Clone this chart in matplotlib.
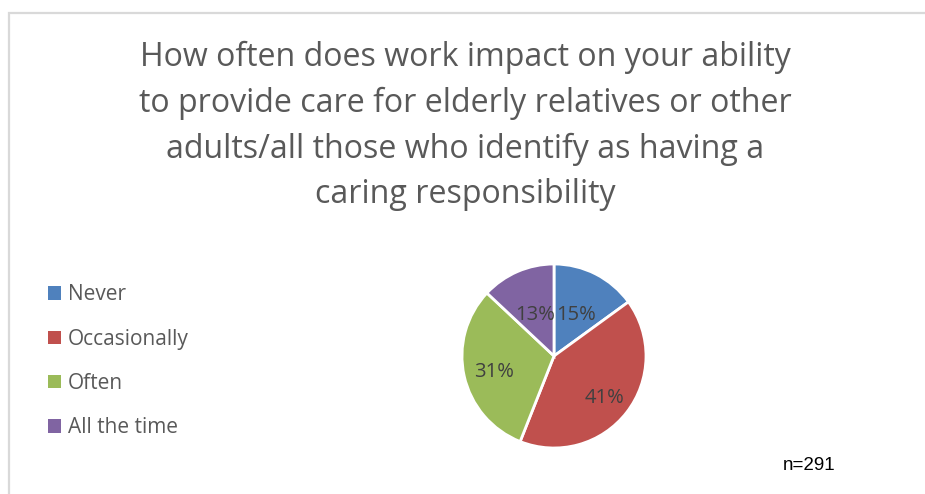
import matplotlib
matplotlib.use("Agg")
import matplotlib.pyplot as plt
import numpy as np

# Survey responses
categories = ["Never", "Occasionally", "Often", "All the time"]
shares = [15, 41, 31, 13]
sample_size = 291
title = ("How often does work impact on your ability\n"
         "to provide care for elderly relatives or other\n"
         "adults/all those who identify as having a\n"
         "caring responsibility")

colors = ["#4f81bd", "#c0504d", "#9bbb59", "#8064a2"]
label_radius = [0.53, 0.7, 0.67, 0.52]

W, H = 925, 494
fig = plt.figure(figsize=(W / 100, H / 100), dpi=100)
fig.patch.set_facecolor("white")

# Chart-area frame (top and left edges visible)
frame = fig.add_axes([0, 0, 1, 1])
frame.set_xlim(0, W)
frame.set_ylim(H, 0)
frame.axis("off")
frame.plot([9, 9, W + 5], [H + 5, 13, 13], color="#d9d9d9", lw=1.6,
           solid_joinstyle="miter")

fig.text(465 / W, 1 - 126 / H, title, ha="center", va="center",
         fontsize=23.1, color="#595959", family="Open Sans",
         linespacing=1.5)

# Pie
cx, cy, r = 554, 356, 92
ax = fig.add_axes([(cx - r) / W, (H - cy - r) / H, 2 * r / W, 2 * r / H])
wedges, _ = ax.pie(shares, colors=colors, startangle=90, counterclock=False,
                   radius=1.0,
                   wedgeprops=dict(edgecolor="white", linewidth=2.0))
ax.set_xlim(-1, 1)
ax.set_ylim(-1, 1)
ax.set_aspect("equal")
ax.axis("off")

total = sum(shares)
for w, v, d in zip(wedges, shares, label_radius):
    mid = np.deg2rad((w.theta1 + w.theta2) / 2)
    ax.text(d * np.cos(mid), d * np.sin(mid) - 0.03,
            f"{round(100 * v / total)}%",
            ha="center", va="center", fontsize=14.5, color="#404040",
            family="Open Sans")

leg = fig.legend(wedges, categories, loc="upper left",
                 bbox_to_anchor=(38 / W, 1 - 274 / H), frameon=False,
                 prop=dict(family="Open Sans", size=15),
                 labelcolor="#595959", handlelength=0.62, handleheight=0.62,
                 handletextpad=0.3, labelspacing=1.12, borderpad=0)
for h in leg.legend_handles:
    h.set_edgecolor("none")
    h.set_linewidth(0)

fig.text(809 / W, 1 - 465 / H, f"n={sample_size}", ha="center", va="center",
         fontsize=13.5, color="#000000", family="Liberation Sans")

fig.savefig("out.png", dpi=100, facecolor="white")
